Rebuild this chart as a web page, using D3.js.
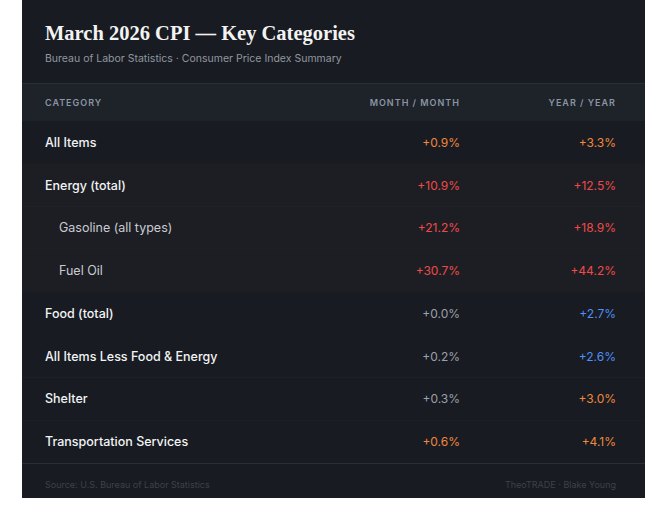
<!DOCTYPE html><html><head><script src="https://cdn.jsdelivr.net/npm/d3@7"></script>
<style>body{margin:0;background:#fff}</style></head><body><svg id="c" width="661" height="505"></svg>
<script>
const categories=["All Items","Energy (total)","Gasoline (all types)","Fuel Oil","Food (total)","All Items Less Food & Energy","Shelter","Transportation Services"];
const indent=[0,0,1,1,0,0,0,0];
const group=[0,1,1,1,0,0,0,0];
const mom=[0.9,10.9,21.2,30.7,0.0,0.2,0.3,0.6];
const yoy=[3.3,12.5,18.9,44.2,2.7,2.6,3.0,4.1];
const momKind=["o","r","r","r","g","g","g","o"];
const yoyKind=["o","r","r","r","b","b","o","o"];
const col={o:"#f0883e",r:"#ef4a4a",g:"#9ba1a9",b:"#4f8ff7"};
const svg=d3.select("#c");
const L=22,R=645,T=0,B=498;
svg.append("rect").attr("x",L).attr("y",T).attr("width",R-L).attr("height",B-T).attr("fill","#181b21");
svg.append("text").attr("x",45).attr("y",40).text("March 2026 CPI — Key Categories").attr("fill","#f3f3f3").attr("font-family","Liberation Serif, serif").attr("font-weight","bold").attr("font-size",20.5);
svg.append("text").attr("x",45).attr("y",62).text("Bureau of Labor Statistics · Consumer Price Index Summary").attr("fill","#9097a0").attr("font-family","Inter, sans-serif").attr("font-size",10.5);
svg.append("rect").attr("x",L).attr("y",83).attr("width",R-L).attr("height",38).attr("fill","#1e2229");
svg.append("line").attr("x1",L).attr("x2",R).attr("y1",83.5).attr("y2",83.5).attr("stroke","#2a2e35");
const hdr=[["CATEGORY",45,"start"],["MONTH / MONTH",460,"end"],["YEAR / YEAR",616,"end"]];
hdr.forEach(h=>svg.append("text").attr("x",h[1]).attr("y",106).text(h[0]).attr("text-anchor",h[2]).attr("fill","#8a95a3").attr("font-family","Inter, sans-serif").attr("font-weight",600).attr("font-size",9).attr("letter-spacing",1));
const y=d3.scaleBand().domain(d3.range(categories.length)).range([121,463]);
const g=svg.selectAll("g.r").data(categories).join("g");
g.append("rect").attr("x",L).attr("width",R-L).attr("y",(d,i)=>y(i)).attr("height",y.bandwidth()).attr("fill",(d,i)=>group[i]?"#1d1e23":"#181b21");
g.append("line").attr("x1",L).attr("x2",R).attr("y1",(d,i)=>y(i)+y.bandwidth()+0.5).attr("y2",(d,i)=>y(i)+y.bandwidth()+0.5).attr("stroke","#2a2e35");
const fmt=v=>"+"+v.toFixed(1)+"%";
g.append("text").attr("x",(d,i)=>indent[i]?59:45).attr("y",(d,i)=>y(i)+y.bandwidth()/2+4.5).text(d=>d).attr("fill",(d,i)=>indent[i]?"#c8ccd2":"#f2f3f5").attr("font-family","Inter, sans-serif").attr("font-weight",(d,i)=>indent[i]?400:500).attr("font-size",12.5);
g.append("text").attr("x",460).attr("text-anchor","end").attr("y",(d,i)=>y(i)+y.bandwidth()/2+4.5).text((d,i)=>fmt(mom[i])).attr("fill",(d,i)=>col[momKind[i]]).attr("font-family","Inter, sans-serif").attr("font-size",12);
g.append("text").attr("x",616).attr("text-anchor","end").attr("y",(d,i)=>y(i)+y.bandwidth()/2+4.5).text((d,i)=>fmt(yoy[i])).attr("fill",(d,i)=>col[yoyKind[i]]).attr("font-family","Inter, sans-serif").attr("font-size",12);
svg.append("text").attr("x",45).attr("y",488).text("Source: U.S. Bureau of Labor Statistics").attr("fill","#3d424a").attr("font-family","Inter, sans-serif").attr("font-size",9);
svg.append("text").attr("x",616).attr("y",488).attr("text-anchor","end").text("TheoTRADE · Blake Young").attr("fill","#3d424a").attr("font-family","Inter, sans-serif").attr("font-size",9);
</script></body></html>
